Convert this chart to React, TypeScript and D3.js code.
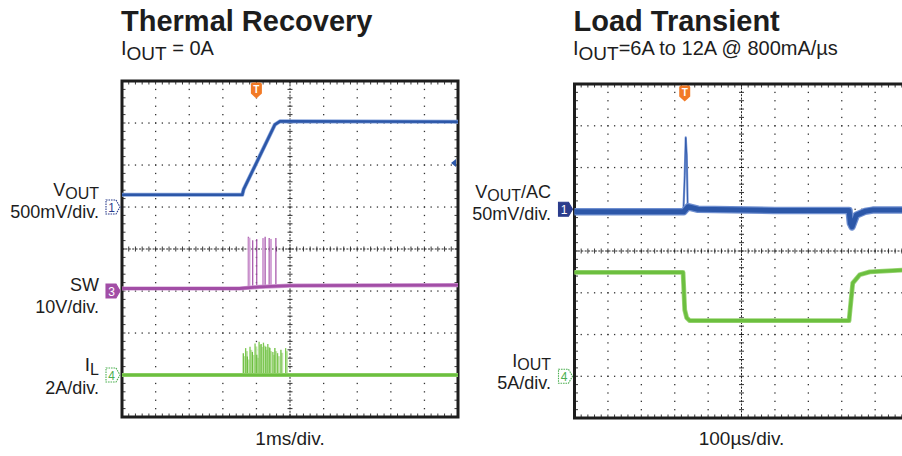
import React, { useEffect, useRef } from "react";
import * as d3 from "d3";

// ---- Thermal Recovery (time in ms, level in divisions from centre) ----
const thermalVout = [[-5, 1.29], [-1.42, 1.29], [-1.38, 1.42], [-0.45, 2.96], [-0.3, 3.04], [5, 3.03]];
const thermalSw = [[-5, -0.94], [-1.5, -0.94], [-0.9, -0.9], [0, -0.87], [5, -0.86]];
const thermalSwSpikes = [[-1.24, 0.29], [-1.21, 0.27], [-1.11, 0.21], [-0.99, 0.24], [-0.8, 0.26], [-0.74, 0.29], [-0.62, 0.26], [-0.57, 0.24], [-0.42, 0.26]];
const thermalIl = [[-5, -3.0], [5, -3.0]];
const thermalIlSpikes = [
  [-1.39, -2.48], [-1.32, -2.36], [-1.27, -2.56], [-1.19, -2.33], [-1.12, -2.45], [-1.04, -2.25],
  [-0.99, -2.52], [-0.92, -2.21], [-0.86, -2.26], [-0.79, -2.23], [-0.72, -2.33], [-0.66, -2.26],
  [-0.6, -2.36], [-0.51, -2.45], [-0.45, -2.36], [-0.37, -2.48], [-0.27, -2.4], [-0.13, -2.36],
];
const thermalMarkers = [
  { ch: "1", level: 1.0, color: "#2b3c8c", filled: false },
  { ch: "3", level: -1.0, color: "#a24ea6", filled: true },
  { ch: "4", level: -3.0, color: "#4caf50", filled: false },
];
const thermalTrigger = -1.0;
const thermalTrigLevel = 2.05;

// ---- Load Transient (time in µs, level in divisions) ----
const transientVout = [[-500, 0.94], [-173, 0.94], [-160, 1.06], [-130, 1.0], [100, 0.97], [322, 0.97], [326, 0.66], [331, 0.58], [344, 0.86], [370, 0.95], [393, 0.98], [500, 0.98]];
const transientSpike = [[-174, 0.94], [-170, 1.8], [-167, 2.72], [-164, 2.3], [-161, 1.0]];
const transientIout = [[-500, -0.51], [-175, -0.51], [-170, -1.41], [-164, -1.6], [-155, -1.67], [322, -1.67], [324, -1.5], [333, -0.77], [354, -0.57], [384, -0.5], [500, -0.45]];
const transientMarkers = [
  { ch: "1", level: 1.0, color: "#2b3c8c", filled: true },
  { ch: "4", level: -3.0, color: "#4caf50", filled: false },
];
const transientTrigger = -170;

const titles = ["Thermal Recovery", "Load Transient"];
const timeLabels = ["1ms/div.", "100µs/div."];

const FONT = "'Liberation Sans', Arial, Helvetica, sans-serif";
const INK = "#1d1d1d";

const App = () => {
  const ref = useRef(null);

  useEffect(() => {
    const svg = d3.select(ref.current);
    svg.selectAll("*").remove();

    const panels = [
      {
        x: d3.scaleLinear().domain([-5, 5]).range([122, 458]),
        y: d3.scaleLinear().domain([-4, 4]).range([417, 81]),
      },
      {
        x: d3.scaleLinear().domain([-500, 500]).range([574.5, 908.5]),
        y: d3.scaleLinear().domain([-4, 4]).range([418, 84]),
      },
    ];

    const line = (p) => d3.line().x((d) => p.x(d[0])).y((d) => p.y(d[1]));

    // grid + frame
    panels.forEach((p) => {
      const g = svg.append("g");
      const [x0, x1] = p.x.range();
      const [y1, y0] = p.y.range();
      const major = p.x.ticks(10);
      const minor = p.x.ticks(50);
      const majorY = p.y.ticks(8);
      const minorY = p.y.ticks(40);
      const xMin = p.x.domain()[0], xMax = p.x.domain()[1];

      majorY.filter((t) => t !== 0 && Math.abs(t) !== 4).forEach((t) => {
        minor.forEach((m) => {
          g.append("rect").attr("x", p.x(m) - 0.6).attr("y", p.y(t) - 0.6)
            .attr("width", 1.3).attr("height", 1.3).attr("fill", "#333");
        });
      });
      major.filter((t) => t !== 0 && t !== xMin && t !== xMax).forEach((t) => {
        minorY.forEach((m) => {
          g.append("rect").attr("x", p.x(t) - 0.6).attr("y", p.y(m) - 0.6)
            .attr("width", 1.3).attr("height", 1.3).attr("fill", "#333");
        });
      });

      // centre cross
      g.append("line").attr("x1", x0).attr("x2", x1).attr("y1", p.y(0)).attr("y2", p.y(0))
        .attr("stroke", "#222").attr("stroke-width", 1).attr("stroke-dasharray", "2,1.4");
      g.append("line").attr("x1", p.x(0)).attr("x2", p.x(0)).attr("y1", y0).attr("y2", y1)
        .attr("stroke", "#222").attr("stroke-width", 1).attr("stroke-dasharray", "2,1.4");
      minor.forEach((m) => {
        g.append("line").attr("x1", p.x(m)).attr("x2", p.x(m))
          .attr("y1", p.y(0) - 2.5).attr("y2", p.y(0) + 2.5).attr("stroke", "#222").attr("stroke-width", 0.9);
        g.append("line").attr("x1", p.x(m)).attr("x2", p.x(m))
          .attr("y1", y0).attr("y2", y0 + 3.5).attr("stroke", "#222").attr("stroke-width", 0.9);
        g.append("line").attr("x1", p.x(m)).attr("x2", p.x(m))
          .attr("y1", y1).attr("y2", y1 - 3.5).attr("stroke", "#222").attr("stroke-width", 0.9);
      });
      minorY.forEach((m) => {
        g.append("line").attr("x1", p.x(0) - 2.5).attr("x2", p.x(0) + 2.5)
          .attr("y1", p.y(m)).attr("y2", p.y(m)).attr("stroke", "#222").attr("stroke-width", 0.9);
        g.append("line").attr("x1", x0).attr("x2", x0 + 3.5)
          .attr("y1", p.y(m)).attr("y2", p.y(m)).attr("stroke", "#222").attr("stroke-width", 0.9);
        g.append("line").attr("x1", x1).attr("x2", x1 - 3.5)
          .attr("y1", p.y(m)).attr("y2", p.y(m)).attr("stroke", "#222").attr("stroke-width", 0.9);
      });

      g.append("rect").attr("x", x0).attr("y", y0).attr("width", x1 - x0).attr("height", y1 - y0)
        .attr("fill", "none").attr("stroke", INK).attr("stroke-width", 3);
    });

    // ---- traces: thermal ----
    const L = panels[0];
    const blue = "#2c57a8";
    const blueHalo = "#8aa6dc";
    const purple = "#a24ea6";
    const green = "#6cbf3f";

    const trace = (p, data, color, halo, w, hw) => {
      svg.append("path").attr("d", line(p)(data)).attr("fill", "none")
        .attr("stroke", halo).attr("stroke-width", hw).attr("stroke-linejoin", "round");
      svg.append("path").attr("d", line(p)(data)).attr("fill", "none")
        .attr("stroke", color).attr("stroke-width", w).attr("stroke-linejoin", "round");
    };

    trace(L, thermalVout, blue, blueHalo, 2.6, 4);

    thermalSwSpikes.forEach((s, i) => {
      svg.append("line").attr("x1", L.x(s[0])).attr("x2", L.x(s[0]))
        .attr("y1", L.y(-0.9)).attr("y2", L.y(s[1]))
        .attr("stroke", i % 3 === 1 ? "#d3a3d6" : purple).attr("stroke-width", i % 3 === 1 ? 2.2 : 1.2);
    });
    trace(L, thermalSw, purple, "#cf9ad2", 2.8, 4.2);

    thermalIlSpikes.forEach((s, i) => {
      svg.append("line").attr("x1", L.x(s[0]) + 1.2).attr("x2", L.x(s[0]) + 1.2)
        .attr("y1", L.y(-3)).attr("y2", L.y(s[1]) + 3)
        .attr("stroke", "#bfe3a8").attr("stroke-width", 2.2);
      svg.append("line").attr("x1", L.x(s[0])).attr("x2", L.x(s[0]))
        .attr("y1", L.y(-3)).attr("y2", L.y(s[1]))
        .attr("stroke", i % 2 ? "#7cc850" : green).attr("stroke-width", 1.3);
    });
    trace(L, thermalIl, green, "#a8db88", 2.8, 4.2);

    // ---- traces: transient ----
    const R = panels[1];
    svg.append("path").attr("d", line(R)(transientSpike)).attr("fill", "none")
      .attr("stroke", "#7f9bd8").attr("stroke-width", 2.2).attr("stroke-linejoin", "round");
    svg.append("path").attr("d", line(R)(transientSpike)).attr("fill", "none")
      .attr("stroke", blue).attr("stroke-width", 0.9);
    trace(R, transientVout, blue, "#6f8fd0", 5, 7.5);
    trace(R, transientIout, green, "#9dd67a", 3.2, 4.8);

    // ---- channel markers ----
    const marker = (p, m) => {
      const xr = p.x.range()[0] - 2;
      const cy = p.y(m.level);
      const g = svg.append("g");
      g.append("path")
        .attr("d", `M${xr - 14},${cy - 7} h10 l4,7 l-4,7 h-10 z`)
        .attr("fill", m.filled ? m.color : "#fff")
        .attr("stroke", m.color).attr("stroke-width", 1.1)
        .attr("stroke-dasharray", m.filled ? null : "1.6,0.9");
      g.append("text").attr("x", xr - 8.5).attr("y", cy + 4.5).attr("text-anchor", "middle")
        .style("font-family", FONT).style("font-size", "12px")
        .attr("fill", m.filled ? "#fff" : m.color).text(m.ch);
    };
    thermalMarkers.forEach((m) => marker(L, m));
    transientMarkers.forEach((m) => marker(R, m));

    // trigger markers
    const trig = (p, t) => {
      const cx = p.x(t);
      const top = p.y.range()[1] + 1.5;
      svg.append("path")
        .attr("d", `M${cx - 5.5},${top + 2} q0,-2 2,-2 h7 q2,0 2,2 v9 l-5.5,5 l-5.5,-5 z`)
        .attr("fill", "#f27a26");
      svg.append("text").attr("x", cx).attr("y", top + 10.5).attr("text-anchor", "middle")
        .style("font-family", FONT).style("font-size", "10px").style("font-weight", "bold")
        .attr("fill", "#fff").text("T");
    };
    trig(L, thermalTrigger);
    trig(R, transientTrigger);

    // trigger level arrow
    const tx = L.x.range()[1] - 2;
    const ty = L.y(thermalTrigLevel);
    svg.append("path").attr("d", `M${tx - 5},${ty} l5,-4 v8 z`).attr("fill", blue);

    // ---- text ----
    const txt = (x, y, size, anchor = "start", weight = "normal") =>
      svg.append("text").attr("x", x).attr("y", y).attr("text-anchor", anchor)
        .style("font-family", FONT).style("font-size", `${size}px`).style("font-weight", weight)
        .attr("fill", INK);

    panels.forEach((p, i) => {
      txt(p.x.range()[0] - 1, 31, 29, "start", "bold").text(titles[i]);
      txt(p.x(0), 445, 19, "middle").text(timeLabels[i]);
    });

    // subtitles
    const s1 = txt(121, 55, 20);
    s1.append("tspan").text("I");
    s1.append("tspan").attr("dy", 5).style("font-size", "19px").text("OUT");
    s1.append("tspan").attr("dy", -5).text(" = 0A");
    const s2 = txt(573, 55, 20);
    s2.append("tspan").text("I");
    s2.append("tspan").attr("dy", 5).style("font-size", "19px").text("OUT");
    s2.append("tspan").attr("dy", -5).text("=6A to 12A @ 800mA/µs");

    // left channel labels
    const v1 = txt(99, 195.5, 18, "end");
    v1.append("tspan").text("V");
    v1.append("tspan").attr("dy", 3).style("font-size", "16px").text("OUT");
    txt(99, 217.5, 18, "end").text("500mV/div.");
    txt(99, 291, 18, "end").text("SW");
    txt(99, 313, 18, "end").text("10V/div.");
    const il = txt(99, 371, 19, "end");
    il.append("tspan").text("I");
    il.append("tspan").attr("dy", 4).style("font-size", "16px").text("L");
    txt(99, 394, 18, "end").text("2A/div.");

    // right channel labels
    const v2 = txt(551, 198, 18, "end");
    v2.append("tspan").text("V");
    v2.append("tspan").attr("dy", 3).style("font-size", "16px").text("OUT");
    v2.append("tspan").attr("dy", -3).text("/AC");
    txt(551, 220, 18, "end").text("50mV/div.");
    const io = txt(551, 367, 18, "end");
    io.append("tspan").text("I");
    io.append("tspan").attr("dy", 3).style("font-size", "16px").text("OUT");
    txt(551, 389, 18, "end").text("5A/div.");
  }, []);

  return (
    <div style={{ position: "absolute", left: 0, top: 0 }}>
      <svg ref={ref} width={902} height={456} style={{ display: "block", background: "#fff" }} />
    </div>
  );
};

export default App;
